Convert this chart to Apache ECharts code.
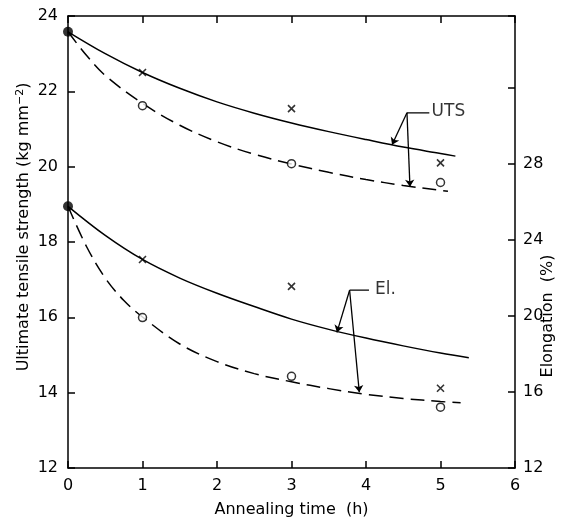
<!DOCTYPE html>
<html>
<head>
<meta charset="utf-8">
<script src="https://cdn.jsdelivr.net/npm/echarts@6/dist/echarts.min.js"></script>
<style>html,body{margin:0;padding:0;background:#fff;}#c{width:566px;height:523px;}</style>
</head>
<body>
<div id="c"></div>
<script>
// ---- data ----
const xTicks = [0, 1, 2, 3, 4, 5, 6];
const utsTicks = [12, 14, 16, 18, 20, 22, 24];
const elTicks = [12, 16, 20, 24, 28];

// UTS curves (left axis, kg mm^-2)
const utsSolidX = [0, 0.5, 1, 1.5, 2, 2.5, 3, 3.5, 4, 4.5, 5, 5.2];
const utsSolidY = [23.58, 23.0, 22.5, 22.08, 21.72, 21.42, 21.16, 20.93, 20.72, 20.52, 20.35, 20.28];
const utsDashX = [0, 0.25, 0.5, 1, 1.5, 2, 2.5, 3, 3.5, 4, 4.5, 5, 5.1];
const utsDashY = [23.58, 22.95, 22.42, 21.68, 21.1, 20.66, 20.33, 20.07, 19.85, 19.66, 19.5, 19.37, 19.35];
const utsStart = [[0, 23.58]];
const utsCross = [[1, 22.5], [3, 21.54], [5, 20.1]];
const utsCircle = [[1, 21.62], [3, 20.08], [5, 19.58]];

// Elongation curves (right axis, %)
const elSolidX = [0, 0.5, 1, 1.5, 2, 2.5, 3, 3.5, 4, 4.5, 5, 5.38];
const elSolidY = [25.78, 24.25, 22.98, 22.0, 21.2, 20.5, 19.84, 19.3, 18.84, 18.43, 18.05, 17.8];
const elDashX = [0, 0.25, 0.5, 0.75, 1, 1.5, 2, 2.5, 3, 3.5, 4, 4.5, 5, 5.27];
const elDashY = [25.78, 23.65, 22.0, 20.82, 19.95, 18.53, 17.6, 16.97, 16.54, 16.18, 15.88, 15.66, 15.5, 15.43];
const elStart = [[0, 25.78]];
const elCross = [[1, 22.98], [3, 21.56], [5, 16.2]];
const elCircle = [[1, 19.92], [3, 16.83], [5, 15.2]];

// annotation leaders (x, left-axis value)
const utsLabelPos = [4.88, 21.45];
const utsLeader = [[4.55, 21.43], [4.85, 21.43]];
const utsArrows = [[[4.55, 21.43], [4.35, 20.58]], [[4.55, 21.43], [4.59, 19.47]]];
const elLabelPos = [4.12, 16.74];
const elLeader = [[3.78, 16.72], [4.04, 16.72]];
const elArrows = [[[3.78, 16.72], [3.61, 15.6]], [[3.78, 16.72], [3.91, 14.01]]];

const zip = (xs, ys) => xs.map((x, i) => [x, ys[i]]);
const FONT = '"DejaVu Sans", sans-serif';
const crossPath = 'path://M0,0L10,10M10,0L0,10';
const DASH = [14, 7];

const chart = echarts.init(document.getElementById('c'), null, {renderer: 'canvas'});
const lineStyleBase = {color: '#000', width: 1.5};
const axisCommon = {
  axisLine: {show: true, onZero: false, lineStyle: {color: '#000', width: 1.5}},
  axisTick: {show: true, inside: true, length: 7, lineStyle: {color: '#000', width: 1.5}},
  splitLine: {show: false},
  axisLabel: {color: '#000', fontFamily: FONT, fontSize: 16}
};
const curve = (data, yIdx, dashed) => ({
  type: 'line', xAxisIndex: 0, yAxisIndex: yIdx, data: data, smooth: 0.35,
  showSymbol: false, symbol: 'none',
  lineStyle: Object.assign({}, lineStyleBase, dashed ? {type: DASH} : {})
});

chart.setOption({
  animation: false,
  backgroundColor: '#fff',
  grid: {left: 68, right: 51, top: 16, bottom: 54, containLabel: false},
  xAxis: [
    Object.assign({}, axisCommon, {
      type: 'value', min: xTicks[0], max: xTicks[xTicks.length - 1], interval: 1, position: 'bottom',
      name: 'Annealing time  (h)', nameLocation: 'middle', nameGap: 34,
      nameTextStyle: {color: '#000', fontFamily: FONT, fontSize: 16},
      axisLabel: Object.assign({}, axisCommon.axisLabel, {margin: 10})
    }),
    Object.assign({}, axisCommon, {
      type: 'value', min: xTicks[0], max: xTicks[xTicks.length - 1], interval: 1, position: 'top',
      axisLabel: {show: false}
    })
  ],
  yAxis: [
    Object.assign({}, axisCommon, {
      type: 'value', min: utsTicks[0], max: utsTicks[utsTicks.length - 1], interval: 2, position: 'left',
      axisLabel: Object.assign({}, axisCommon.axisLabel, {margin: 10})
    }),
    Object.assign({}, axisCommon, {
      type: 'value', min: elTicks[0], max: 35.8, interval: 4, position: 'right',
      axisLabel: Object.assign({}, axisCommon.axisLabel, {
        margin: 8,
        formatter: v => (elTicks.indexOf(v) >= 0 ? String(v) : '')
      })
    })
  ],
  graphic: [
    {
      type: 'text', x: 24, y: 227, rotation: Math.PI / 2,
      style: {
        text: '{a|Ultimate tensile strength (kg mm}{s|−2}{a|)}',
        align: 'center', verticalAlign: 'middle', fill: '#000',
        rich: {
          a: {fontFamily: FONT, fontSize: 16, fill: '#000'},
          s: {fontFamily: FONT, fontSize: 11, fill: '#000', verticalAlign: 'top', padding: [0, 0, 8, 0]}
        }
      }
    },
    {
      type: 'text', x: 548, y: 316, rotation: Math.PI / 2,
      style: {text: 'Elongation  (%)', align: 'center', verticalAlign: 'middle',
        fontFamily: FONT, fontSize: 16, fill: '#000'}
    }
  ],
  series: [
    curve(zip(utsSolidX, utsSolidY), 0, false),
    curve(zip(utsDashX, utsDashY), 0, true),
    curve(zip(elSolidX, elSolidY), 1, false),
    curve(zip(elDashX, elDashY), 1, true),
    {type: 'scatter', yAxisIndex: 0, data: utsStart, symbol: 'circle', symbolSize: 10, itemStyle: {color: '#000'}, z: 5},
    {type: 'scatter', yAxisIndex: 1, data: elStart, symbol: 'circle', symbolSize: 10, itemStyle: {color: '#000'}, z: 5},
    {type: 'scatter', yAxisIndex: 0, data: utsCross, symbol: crossPath, symbolSize: 7,
      itemStyle: {color: 'none', borderColor: '#000', borderWidth: 1.6}, z: 5},
    {type: 'scatter', yAxisIndex: 1, data: elCross, symbol: crossPath, symbolSize: 7,
      itemStyle: {color: 'none', borderColor: '#000', borderWidth: 1.6}, z: 5},
    {type: 'scatter', yAxisIndex: 0, data: utsCircle, symbol: 'circle', symbolSize: 8,
      itemStyle: {color: '#fff', borderColor: '#000', borderWidth: 1.5}, z: 5},
    {type: 'scatter', yAxisIndex: 1, data: elCircle, symbol: 'circle', symbolSize: 8,
      itemStyle: {color: '#fff', borderColor: '#000', borderWidth: 1.5}, z: 5},
    // annotation leaders
    {type: 'line', yAxisIndex: 0, data: utsLeader, symbol: 'none', lineStyle: {color: '#000', width: 1.3}},
    {type: 'line', yAxisIndex: 0, data: elLeader, symbol: 'none', lineStyle: {color: '#000', width: 1.3}},
    {type: 'lines', coordinateSystem: 'cartesian2d', xAxisIndex: 0, yAxisIndex: 0,
      data: utsArrows.concat(elArrows).map(c => ({coords: c})),
      symbol: ['none', 'arrow'], symbolSize: 7,
      lineStyle: {color: '#000', width: 1.3, opacity: 1}},
    {type: 'scatter', yAxisIndex: 0, symbolSize: 0,
      data: [{value: utsLabelPos, name: 'UTS'}, {value: elLabelPos, name: 'El.'}],
      label: {show: true, position: 'right', distance: 0, formatter: p => p.name,
        color: '#000', fontFamily: FONT, fontSize: 17}}
  ]
});
</script>
</body>
</html>
